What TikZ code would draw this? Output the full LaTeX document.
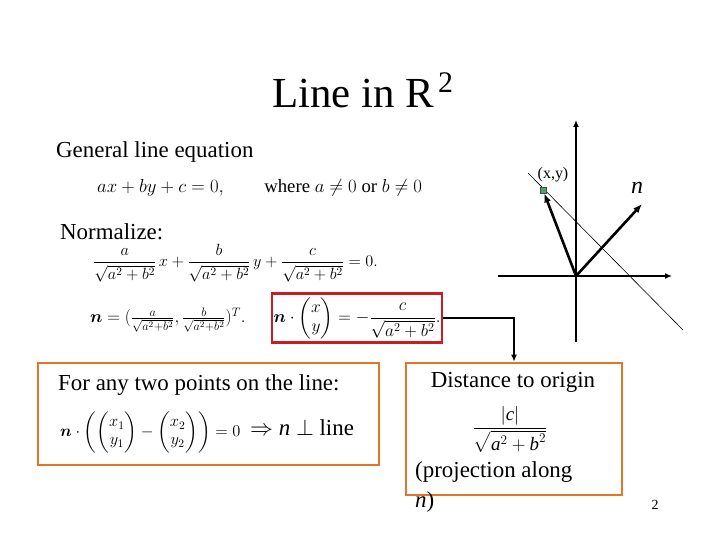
\RequirePackage{fix-cm}
\documentclass[tikz,border=0pt]{standalone}
\usepackage{amsmath}
\usepackage{fontspec}
\setmainfont{Liberation Serif}
\usetikzlibrary{arrows.meta}
\definecolor{boxorange}{RGB}{226,117,40}
\definecolor{boxred}{RGB}{200,30,35}
\definecolor{ptgreen}{RGB}{80,160,110}

\begin{document}
\begin{tikzpicture}
  [x=1bp,y=-1bp,
   title text/.style={font=\fontsize{43}{46}\selectfont},
   body text/.style={font=\fontsize{23}{26}\selectfont,inner sep=0pt},
   formula/.style={font=\fontsize{17.5}{20}\selectfont,inner sep=0pt},
   orange box/.style={draw=boxorange,line width=2.6bp,inner sep=0pt},
   axis/.style={line width=1.8bp,-{Latex[length=7bp,width=6bp]}},
   vec/.style={line width=2.6bp,-{Latex[length=9bp,width=7bp]}}]

\useasboundingbox (0,0) rectangle (720,540);

% title and left column
\node[title text,anchor=base west,inner sep=0pt] (title) at (272,108)
  {Line in R\kern4bp\raisebox{15bp}{\fontsize{30}{32}\selectfont 2}};
\node[body text,anchor=west] (general) at (56,152) {General line equation};
\node[formula,font=\fontsize{18.8}{20}\selectfont,anchor=west] (eqgen) at (97,188)
  {$ax+by+c=0,\qquad\mathrm{where}\ a\neq0\ \mathrm{or}\ b\neq0$};
\node[body text,anchor=west] (normalize) at (60,232) {Normalize:};
\node[formula,font=\fontsize{16.3}{18}\selectfont,anchor=west] (eqnorm) at (93,263)
  {$\dfrac{a}{\sqrt{a^2+b^2}}\,x+\dfrac{b}{\sqrt{a^2+b^2}}\,y+\dfrac{c}{\sqrt{a^2+b^2}}=0.$};
\node[formula,anchor=west] (eqn) at (90,320)
  {$\boldsymbol{n}=(\tfrac{a}{\sqrt{a^2+b^2}},\tfrac{b}{\sqrt{a^2+b^2}})^T.$};
\node[draw=boxred,line width=2.6bp,minimum width=170bp,minimum height=49bp,
  formula] (redbox) at (357,318)
  {$\boldsymbol{n}\cdot\begin{pmatrix}x\\y\end{pmatrix}=-\dfrac{c}{\sqrt{a^2+b^2}}.$};

% orange boxes
\node[orange box,minimum width=341bp,minimum height=102bp] (perpbox) at (208.5,414) {};
\node[body text,anchor=west] (anytwo) at (58,385) {For any two points on the line:};
\node[formula,font=\fontsize{16.5}{18}\selectfont,anchor=west] (eqperp) at (60,432)
  {$\boldsymbol{n}\cdot\left(\begin{pmatrix}x_1\\y_1\end{pmatrix}-\begin{pmatrix}x_2\\y_2\end{pmatrix}\right)=0$};
\node[body text,anchor=west] (perp) at (250,428) {$\Rightarrow$ \textit{n} $\perp$ line};

\node[orange box,minimum width=216bp,minimum height=132bp] (distbox) at (514,429) {};
\node[body text] (distance) at (513,382) {Distance to origin};
\node[font=\fontsize{19}{22}\selectfont,inner sep=0pt] (eqdist) at (510,429)
  {$\dfrac{|\textit{c}|}{\sqrt{\textit{a}^{2}+\textit{b}^{2}}}$};
\node[body text,anchor=west] (proj) at (415,472) {(projection along};
\node[body text,anchor=west] (projn) at (415,502) {\textit{n})};

\draw[line width=1.6bp,-{Latex[length=7bp,width=6bp]}] (redbox.east) -| (distbox.north);

% coordinate sketch
\coordinate (O) at (576,276);
\coordinate (ytop) at (576,120);
\coordinate (ybot) at (576,342);
\coordinate (xleft) at (498,276);
\coordinate (xright) at (672,276);
\coordinate (l1) at (528,173);
\coordinate (l2) at (683,330);
\coordinate (ntip) at (642,204);
\draw[line width=1.8bp] (ybot) -- (O);
\draw[axis] (O) -- (ytop);
\draw[line width=1.8bp] (xleft) -- (O);
\draw[axis] (O) -- (xright);
\draw[line width=0.6bp] (l1) -- (l2);
\node[draw=black!70,fill=ptgreen,minimum size=6bp,inner sep=0pt,line width=0.7bp] (pt) at (543,190) {};
\draw[vec] (O) -- (pt);
\draw[vec] (O) -- (ntip);
\node[font=\fontsize{16}{18}\selectfont,inner sep=0pt] (ptlabel) at (553,175) {(x,y)};
\node[font=\fontsize{24}{26}\selectfont,inner sep=0pt] (nlabel) at (637,188) {\textit{n}};

\node[font=\fontsize{14}{16}\selectfont,inner sep=0pt] (page) at (655,505) {2};
\end{tikzpicture}
\end{document}
